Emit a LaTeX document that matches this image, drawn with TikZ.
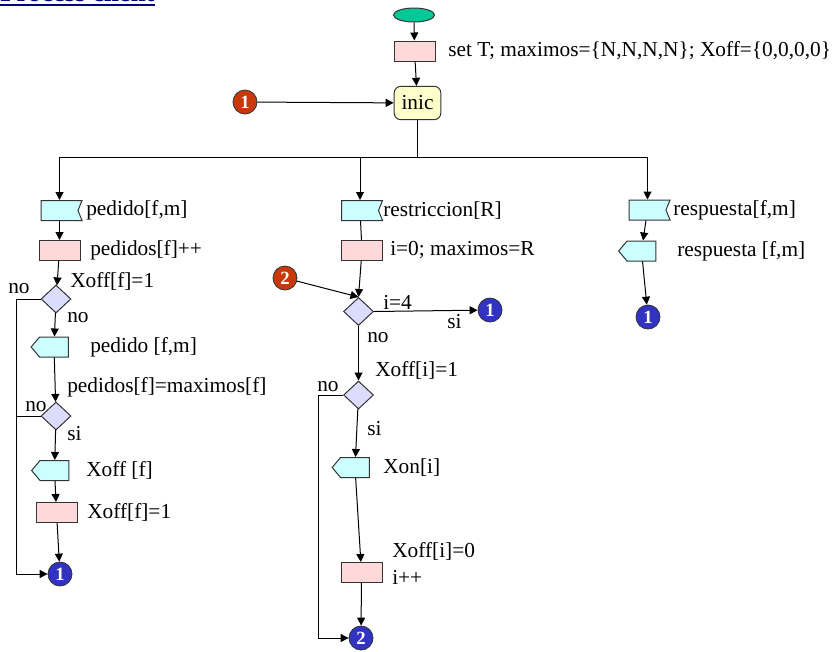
\documentclass[tikz,border=0pt]{standalone}
\usepackage{fontspec}
\setmainfont{Liberation Serif}
\usetikzlibrary{arrows.meta,shapes.symbols,shapes.geometric}
\definecolor{ink}{HTML}{333333}
\definecolor{startgrn}{HTML}{00C896}
\definecolor{procpink}{HTML}{FFD9D9}
\definecolor{iocyan}{HTML}{CCFFFF}
\definecolor{testlila}{HTML}{DCDCFF}
\definecolor{inicyel}{HTML}{FFFFCC}
\definecolor{jumpred}{HTML}{C8380A}
\definecolor{jumpblue}{HTML}{3232C3}
\definecolor{titleblue}{HTML}{000080}
\tikzset{
  startbox/.style={ellipse,draw=ink,fill=startgrn,line width=0.75pt,
                   minimum width=30.75pt,minimum height=10.5pt,inner sep=0pt},
  procbox/.style={draw=ink,fill=procpink,line width=0.75pt,
                  minimum width=30.75pt,minimum height=15pt,inner sep=0pt},
  inbox/.style={signal,signal to=nowhere,signal from=east,signal pointer angle=136,
                draw=ink,fill=iocyan,line width=0.75pt,
                minimum width=30.75pt,minimum height=15pt,inner sep=0pt},
  outbox/.style={signal,signal to=west,signal from=nowhere,signal pointer angle=100,
                 draw=ink,fill=iocyan,line width=0.75pt,
                 minimum width=28pt,minimum height=15pt,inner sep=0pt},
  testbox/.style={diamond,draw=ink,fill=testlila,line width=0.75pt,
                  minimum width=22.5pt,minimum height=21pt,inner sep=0pt},
  inicbox/.style={draw=ink,fill=inicyel,line width=0.75pt,rounded corners=5pt,
                  minimum width=35pt,minimum height=25pt,inner sep=0pt,
                  font=\fontsize{16}{18}\selectfont},
  redjump/.style={circle,draw=ink,fill=jumpred,text=white,line width=0.6pt,
                  minimum size=18pt,inner sep=0pt,font=\fontsize{14}{14}\selectfont\bfseries},
  bluejump/.style={circle,draw=ink,fill=jumpblue,text=white,line width=0.6pt,
                   minimum size=18pt,inner sep=0pt,font=\fontsize{14}{14}\selectfont\bfseries},
  lbl/.style={anchor=west,inner sep=0pt,font=\fontsize{16}{20}\selectfont,align=left},
  flowarr/.style={-{Triangle[length=6pt,width=6pt]},line width=0.75pt},
  flowline/.style={line width=0.75pt}
}

\begin{document}
\begin{tikzpicture}[x=0.75pt,y=-0.75pt]
  \useasboundingbox (0,0) rectangle (834,651);
  % title (cut by the page edge)
  \node[anchor=base west,inner sep=0pt,text=titleblue,
        font=\fontsize{20}{20}\selectfont\bfseries] (title) at (0,1) {Process client};
  \draw[titleblue,line width=1.4pt] ([yshift=-3.2pt]title.base west) -- ([yshift=-3.2pt]title.base east);

  % top
  \node[startbox] (start) at (414,15) {};
  \node[procbox] (setT) at (414.5,51) {};
  \node[lbl] (setTl) at (448,51) {set T; maximos=\{N,N,N,N\}; Xoff=\{0,0,0,0\}};
  \node[inicbox] (inic) at (417.5,103) {inic};
  \node[redjump] (jumpA) at (245,102) {1};
  \coordinate (fork) at (417.5,157);
  \draw[flowarr] (start) -- (setT);
  \draw[flowarr] (setT) -- (inic);
  \draw[flowarr] (jumpA) -- (inic);

  % left column
  \node[inbox] (pedIn) at (59.5,210.5) {};
  \node[lbl] (pedInl) at (86,210.5) {pedido[f,m]};
  \node[procbox] (pedInc) at (59.5,250.5) {};
  \node[lbl] (pedIncl) at (90,250.5) {pedidos[f]++};
  \node[testbox] (testA) at (56,299) {};
  \node[lbl] (testAl) at (70,281) {Xoff[f]=1};
  \node[lbl] (testAno) at (8,289) {no};
  \node[lbl] (testAno2) at (67,318) {no};
  \node[outbox] (pedOut) at (54,347) {};
  \node[lbl] (pedOutl) at (90,347) {pedido [f,m]};
  \node[testbox] (testB) at (56,416) {};
  \node[lbl] (testBl) at (67,387) {pedidos[f]=maximos[f]};
  \node[lbl] (testBno) at (25,407) {no};
  \node[lbl] (testBsi) at (67,434) {si};
  \node[outbox] (xoffOut) at (54.5,470.5) {};
  \node[lbl] (xoffOutl) at (86,470.5) {Xoff [f]};
  \node[procbox] (xoffSet) at (56.5,512.5) {};
  \node[lbl] (xoffSetl) at (87,512.5) {Xoff[f]=1};
  \node[bluejump] (jumpB) at (60,574) {1};

  % middle column
  \node[inbox] (restIn) at (360,210.5) {};
  \node[lbl] (restInl) at (383,210.5) {restriccion[R]};
  \node[procbox] (restSet) at (362,250.5) {};
  \node[lbl] (restSetl) at (390,250.5) {i=0; maximos=R};
  \node[redjump] (jumpC) at (285,278) {2};
  \node[testbox] (testC) at (358.5,311.5) {};
  \node[lbl] (testCl) at (383,302) {i=4};
  \node[lbl] (testCsi) at (447,322) {si};
  \node[lbl] (testCno) at (367,338) {no};
  \node[bluejump] (jumpD) at (490,310) {1};
  \node[testbox] (testD) at (358.5,395) {};
  \node[lbl] (testDl) at (375,370) {Xoff[i]=1};
  \node[lbl] (testDno) at (317,387) {no};
  \node[lbl] (testDsi) at (367,429) {si};
  \node[outbox] (xonOut) at (355,467.5) {};
  \node[lbl] (xonOutl) at (383,467.5) {Xon[i]};
  \node[procbox] (xoffClr) at (361.5,572.5) {};
  \node[lbl] (xoffClrl) at (392,563.5) {Xoff[i]=0\\i++};
  \node[bluejump] (jumpE) at (361,638) {2};

  % right column
  \node[inbox] (respIn) at (647.5,210) {};
  \node[lbl] (respInl) at (673,210) {respuesta[f,m]};
  \node[outbox] (respOut) at (641.5,251) {};
  \node[lbl] (respOutl) at (677,251) {respuesta [f,m]};
  \node[bluejump] (jumpF) at (648,317) {1};

  % fork
  \draw[flowline] (inic) -- (fork);
  \draw[flowline] (pedIn.north |- fork) -- (respIn.north |- fork);
  \draw[flowarr] (pedIn.north |- fork) -- (pedIn.north);
  \draw[flowarr] (restIn.north |- fork) -- (restIn.north);
  \draw[flowarr] (respIn.north |- fork) -- (respIn.north);

  % left flow
  \draw[flowarr] (pedIn) -- (pedInc);
  \draw[flowarr] (pedInc) -- (testA);
  \draw[flowarr] (testA) -- (pedOut);
  \draw[flowarr] (pedOut) -- (testB);
  \draw[flowarr] (testB) -- (xoffOut);
  \draw[flowarr] (xoffOut) -- (xoffSet);
  \draw[flowarr] (xoffSet) -- (jumpB);
  \draw[flowarr] (testA.west) -- ++(-24,0) |- (jumpB);
  \draw[flowline] (testB.west) -- ++(-24,0);

  % middle flow
  \draw[flowline] (restIn) -- (restSet);
  \draw[flowarr] (restSet) -- (testC.north);
  \draw[flowarr] (jumpC) -- (testC.north);
  \draw[flowarr] (testC.east) -- (jumpD);
  \draw[flowarr] (testC) -- (testD);
  \draw[flowarr] (testD) -- (xonOut);
  \draw[flowarr] (xonOut) -- (xoffClr);
  \draw[flowarr] (xoffClr) -- (jumpE);
  \draw[flowarr] (testD.west) -- ++(-25,0) |- (jumpE);

  % right flow
  \draw[flowarr] (respIn) -- (respOut);
  \draw[flowarr] (respOut) -- (jumpF);
\end{tikzpicture}
\end{document}
